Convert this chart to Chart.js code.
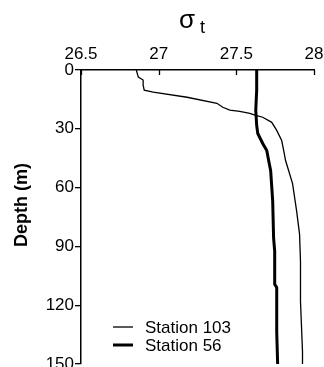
<!DOCTYPE html>
<html>
<head>
<meta charset="utf-8">
<script src="https://cdn.jsdelivr.net/npm/chart.js@4/dist/chart.umd.min.js"></script>
<style>
html, body { margin: 0; padding: 0; background: #fff; overflow: hidden; }
canvas { display: block; }
</style>
</head>
<body>
<canvas id="c" width="324" height="380"></canvas>
<script>
// Station 103 (thin line): depth (m) and sigma-t
var depth103 = [0, 3.6, 5.1, 7.7, 10.3, 11.3, 13.9, 17.0, 19.0, 20.5, 21.1, 22.1, 23.1, 24.1, 26.7, 30.8, 36.0, 41.1, 46.2, 51.4, 58.0, 71.9, 83.7, 97.6, 118, 143.8, 150];
var sigma103 = [26.856, 26.869, 26.90, 26.90, 26.907, 26.965, 27.183, 27.375, 27.413, 27.458, 27.522, 27.587, 27.625, 27.670, 27.728, 27.760, 27.792, 27.805, 27.817, 27.837, 27.862, 27.888, 27.907, 27.913, 27.913, 27.926, 27.926];

// Station 56 (thick line)
var depth56 = [0, 10.3, 20.5, 28.3, 32.4, 37.5, 41.1, 46.2, 51.4, 66.8, 85.8, 92.5, 109.4, 111, 133.6, 150];
var sigma56 = [27.631, 27.631, 27.625, 27.631, 27.638, 27.670, 27.696, 27.708, 27.721, 27.734, 27.740, 27.747, 27.747, 27.760, 27.760, 27.766];

var seriesNames = ['Station 103', 'Station 56'];
var xTicks = [26.5, 27, 27.5, 28];
var yTicks = [0, 30, 60, 90, 120, 150];

var FONT = '"Liberation Sans", Arial, Helvetica, sans-serif';

function toPoints(d, s) {
  var pts = [];
  for (var i = 0; i < d.length; i++) pts.push({x: s[i], y: d[i]});
  return pts;
}

// ticks on the top axis point down into the plot, plus titles and legend
var extras = {
  id: 'extras',
  afterDraw: function(chart) {
    var ctx = chart.ctx, a = chart.chartArea, xs = chart.scales.x;
    ctx.save();
    ctx.strokeStyle = '#000';
    ctx.lineWidth = 1.3;
    xs.ticks.forEach(function(t) {
      var px = Math.round(xs.getPixelForValue(t.value)) + 0.5;
      ctx.beginPath();
      ctx.moveTo(px, a.top);
      ctx.lineTo(px, a.top + 5);
      ctx.stroke();
    });

    // sigma t title
    ctx.fillStyle = '#000';
    ctx.textAlign = 'left';
    ctx.textBaseline = 'alphabetic';
    ctx.font = '26px ' + FONT;
    ctx.fillText('σ', 179, 28);
    ctx.font = '18px ' + FONT;
    ctx.fillText('t', 200, 33);

    // y title
    ctx.save();
    ctx.translate(22, 205);
    ctx.rotate(-Math.PI / 2);
    ctx.textAlign = 'center';
    ctx.textBaseline = 'middle';
    ctx.font = 'bold 18px ' + FONT;
    ctx.fillText('Depth (m)', 0, 0);
    ctx.restore();

    // legend in the lower left of the plot
    ctx.font = '17px ' + FONT;
    ctx.textBaseline = 'middle';
    chart.data.datasets.forEach(function(ds, i) {
      var ly = a.top + 257 + i * 18;
      ctx.lineWidth = ds.borderWidth;
      ctx.beginPath();
      ctx.moveTo(a.left + 32, ly);
      ctx.lineTo(a.left + 52, ly);
      ctx.stroke();
      ctx.fillText(ds.label, a.left + 64, ly + 1);
    });
    ctx.restore();
  }
};

new Chart(document.getElementById('c'), {
  type: 'line',
  data: {
    datasets: [
      {label: seriesNames[0], data: toPoints(depth103, sigma103), borderColor: '#000', borderWidth: 1.3, pointRadius: 0, tension: 0, fill: false},
      {label: seriesNames[1], data: toPoints(depth56, sigma56), borderColor: '#000', borderWidth: 3, pointRadius: 0, tension: 0, fill: false}
    ]
  },
  options: {
    responsive: false,
    animation: false,
    layout: {padding: {left: 0, top: 0, right: 10, bottom: 16}},
    plugins: {legend: {display: false}, tooltip: {enabled: false}},
    scales: {
      x: {
        type: 'linear',
        position: 'top',
        min: 26.5, max: 28,
        afterBuildTicks: function(s) { s.ticks = xTicks.map(function(v) { return {value: v}; }); },
        afterFit: function(s) { s.height = 70; s.paddingLeft = 0; s.paddingRight = 0; },
        grid: {display: false},
        border: {display: true, color: '#000', width: 1.5},
        ticks: {color: '#000', font: {family: FONT, size: 17}, padding: -3, maxRotation: 0,
          callback: function(v) { return String(v); }}
      },
      y: {
        type: 'linear',
        reverse: true,
        min: 0, max: 150,
        afterBuildTicks: function(s) { s.ticks = yTicks.map(function(v) { return {value: v}; }); },
        afterFit: function(s) { s.width = 81; s.paddingTop = 0; s.paddingBottom = 0; },
        grid: {display: true, drawOnChartArea: false, drawTicks: true, tickLength: 6, color: '#000', lineWidth: 1.3},
        border: {display: true, color: '#000', width: 1.5},
        ticks: {color: '#000', font: {family: FONT, size: 17}, padding: 1}
      }
    }
  },
  plugins: [extras]
});
</script>
</body>
</html>
